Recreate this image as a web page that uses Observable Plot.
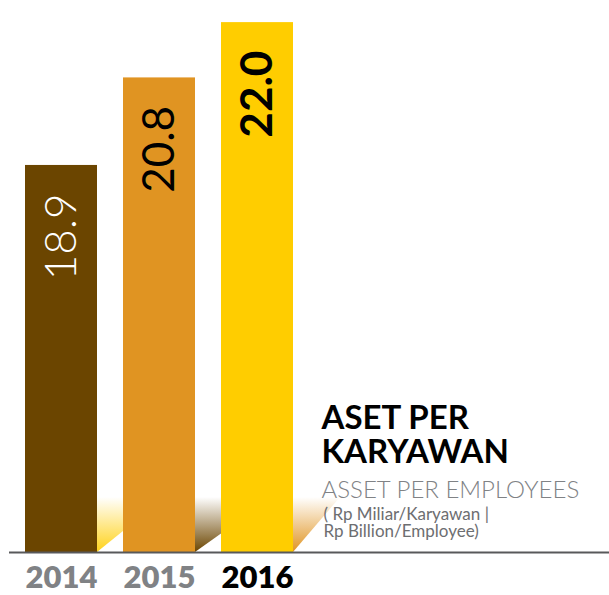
<!DOCTYPE html>
<html>
<head>
<meta charset="utf-8">
<script src="https://cdn.jsdelivr.net/npm/d3@7"></script>
<script src="https://cdn.jsdelivr.net/npm/@observablehq/plot@0.6"></script>
<style>
  html, body { margin: 0; padding: 0; background: #ffffff; }
  #chart { width: 609px; height: 595px; }
</style>
</head>
<body>
<div id="chart"></div>
<script>
// ---- data ----
const years = ["2014", "2015", "2016"];
const values = [18.9, 20.8, 22.0];
const barColors = ["#6B4500", "#E09422", "#FFCD00"];
const labelColors = ["#ffffff", "#000000", "#000000"];
const labelWeights = [300, 400, 700];
const yearColors = ["#808285", "#808285", "#000000"];
const shadowColors = ["#FFD21A", "#6B4500", "#E09422"];
const titleLines = ["ASET PER", "KARYAWAN"];
const subtitleText = "ASSET PER EMPLOYEES";
const noteLines = ["( Rp Miliar/Karyawan |", "Rp Billion/Employee)"];
const yBase = 10.5;
const yTop = 22.48;

const data = years.map((year, i) => ({
  year,
  value: values[i],
  color: barColors[i],
  labelColor: labelColors[i],
  labelWeight: labelWeights[i],
  yearColor: yearColors[i]
}));

const valueLabels = data.map(d =>
  Plot.text([d], {
    x: "year",
    y: "value",
    text: v => v.value.toFixed(1),
    rotate: -90,
    textAnchor: "end",
    dy: 28,
    fill: d.labelColor,
    fontWeight: d.labelWeight,
    fontSize: 44
  })
);

const titleMarks = titleLines.map((line, i) =>
  Plot.text([line], {
    frameAnchor: "top-left",
    dx: 321,
    dy: 405 + i * 34,
    lineAnchor: "top",
    textAnchor: "start",
    fontSize: 33,
    fontWeight: 700,
    fill: "#000000"
  })
);

const noteMarks = noteLines.map((line, i) =>
  Plot.text([line], {
    frameAnchor: "top-left",
    dx: 323,
    dy: 507 + i * 17,
    lineAnchor: "top",
    textAnchor: "start",
    fontSize: 17,
    fontWeight: 400,
    fill: "#6d6e71"
  })
);

const chart = Plot.plot({
  width: 609,
  height: 595,
  marginTop: 0,
  marginRight: 0,
  marginBottom: 43,
  marginLeft: 0,
  style: { fontFamily: "Lato, 'Open Sans', sans-serif", background: "#ffffff" },
  x: { type: "band", domain: years, range: [24, 295], paddingInner: 0.2626, paddingOuter: 0, axis: null },
  y: { domain: [yBase, yTop], axis: null },
  color: { type: "identity" },
  marks: [
    Plot.barY(data, { x: "year", y1: yBase, y2: "value", fill: "color" }),
    ...valueLabels,
    Plot.ruleY([yBase], { stroke: "#58595b", strokeWidth: 2, insetLeft: 9 }),
    Plot.text(data, {
      x: "year",
      text: "year",
      frameAnchor: "bottom",
      dy: 35,
      fill: "yearColor",
      fontSize: 31,
      fontWeight: 800
    }),
    ...titleMarks,
    Plot.text([subtitleText], {
      frameAnchor: "top-left",
      dx: 321,
      dy: 480,
      lineAnchor: "top",
      textAnchor: "start",
      fontSize: 24,
      fontWeight: 300,
      fill: "#808285"
    }),
    ...noteMarks
  ]
});

// ---- decorative bar shadows, placed from the plot's own scales ----
(function () {
  const xs = chart.scale("x");
  const ys = chart.scale("y");
  const svg = d3.select(chart);
  const defs = svg.insert("defs", ":first-child");
  const shadowG = svg.insert("g", "defs + *");
  const baseY = ys.apply(yBase);
  const topY = baseY - 55;
  const reaches = [68, 77, 47];
  years.forEach((yr, i) => {
    const id = "shade" + i;
    const g = defs.append("linearGradient").attr("id", id)
      .attr("x1", 0).attr("y1", 0).attr("x2", 0).attr("y2", 1);
    g.append("stop").attr("offset", 0).attr("stop-color", "#ffffff");
    g.append("stop").attr("offset", 1).attr("stop-color", shadowColors[i]);
    const xr = xs.apply(yr) + xs.bandwidth;
    const reach = reaches[i];
    const xn = i < years.length - 1 ? xs.apply(years[i + 1]) : Infinity;
    let pts;
    if (xr + reach > xn) {
      const yc = baseY - (baseY - topY) * (xn - xr) / reach;
      pts = [[xr, topY], [xn, topY], [xn, yc], [xr, baseY]];
    } else {
      pts = [[xr, topY], [xr + reach, topY], [xr, baseY]];
    }
    shadowG.append("polygon")
      .attr("points", pts.map(p => p.join(",")).join(" "))
      .attr("fill", `url(#${id})`);
  });
})();

document.getElementById("chart").appendChild(chart);
</script>
</body>
</html>
